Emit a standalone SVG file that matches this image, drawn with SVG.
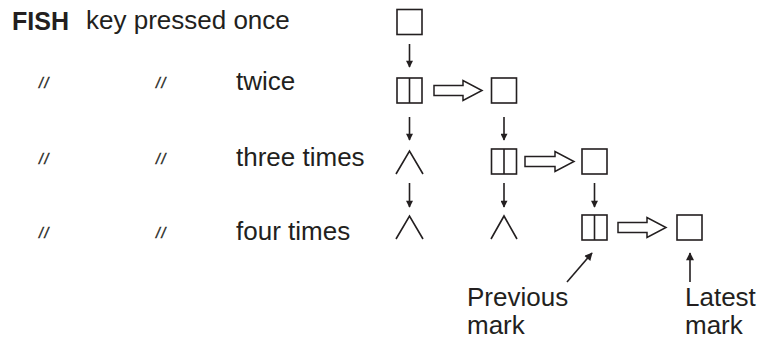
<svg xmlns="http://www.w3.org/2000/svg" width="761" height="340" viewBox="0 0 761 340">
<defs>
<style>
.t{font-family:"Liberation Sans",Arial,sans-serif;font-size:26px;fill:#231f20}
.b{font-weight:bold;font-size:25px}
.d{font-family:"Liberation Sans",Arial,sans-serif;font-size:14px;font-style:italic;letter-spacing:1.5px;fill:#231f20;stroke:#231f20;stroke-width:0.4}
.box{fill:#fff;stroke:#231f20;stroke-width:1.6}
.ln{fill:none;stroke:#231f20;stroke-width:1.6}
.ha{fill:#fff;stroke:#231f20;stroke-width:1.5;stroke-linejoin:miter}
.ar{fill:none;stroke:#231f20;stroke-width:1.6;marker-end:url(#ah)}
</style>
<marker id="ah" viewBox="0 0 10 10" refX="9" refY="5" markerWidth="8" markerHeight="7" markerUnits="userSpaceOnUse" orient="auto">
<path d="M0,0 L10,5 L0,10 Z" fill="#231f20"/>
</marker>
<marker id="ah2" viewBox="0 0 10 10" refX="9" refY="5" markerWidth="10" markerHeight="8" markerUnits="userSpaceOnUse" orient="auto">
<path d="M0,0 L10,5 L0,10 Z" fill="#231f20"/>
</marker>
</defs>
<rect width="761" height="340" fill="#fff"/>
<g id="labels">
<text class="t b" x="12" y="30">FISH</text>
<text class="t" x="86" y="29">key pressed once</text>
<text class="d" x="39" y="88">//</text>
<text class="d" x="156" y="88">//</text>
<text class="t" x="236" y="90">twice</text>
<text class="d" x="39" y="164">//</text>
<text class="d" x="156" y="164">//</text>
<text class="t" x="236" y="166">three times</text>
<text class="d" x="39" y="238">//</text>
<text class="d" x="156" y="238">//</text>
<text class="t" x="236" y="240">four times</text>
</g>
<g id="r1c1"><rect class="box" x="397" y="9.5" width="25" height="25"/></g>
<g id="r2c1"><rect class="box" x="397" y="78" width="25" height="25"/><line class="ln" x1="409.5" y1="78" x2="409.5" y2="103"/></g>
<g id="r2c2"><rect class="box" x="491.5" y="78" width="25" height="25"/></g>
<g id="r3c1"><polyline class="ln" points="396,174 409.5,151 423,174"/></g>
<g id="r3c2"><rect class="box" x="491.5" y="149" width="25" height="25"/><line class="ln" x1="504" y1="149" x2="504" y2="174"/></g>
<g id="r3c3"><rect class="box" x="582" y="149" width="25" height="25"/></g>
<g id="r4c1"><polyline class="ln" points="396,239 409.5,216 423,239"/></g>
<g id="r4c2"><polyline class="ln" points="491,239 504,216 517,239"/></g>
<g id="r4c3"><rect class="box" x="582" y="215" width="25" height="25"/><line class="ln" x1="594.5" y1="215" x2="594.5" y2="240"/></g>
<g id="r4c4"><rect class="box" x="677" y="215" width="25" height="25"/></g>
<g id="prev"><text class="t" x="467" y="306">Previous</text><text class="t" x="467" y="334">mark</text></g>
<g id="latest"><text class="t" x="685" y="306">Latest</text><text class="t" x="685" y="334">mark</text></g>
<g id="connectors">
<line class="ar" x1="409.5" y1="44" x2="409.5" y2="67"/>
<line class="ar" x1="409.5" y1="117" x2="409.5" y2="140"/>
<line class="ar" x1="504" y1="117" x2="504" y2="140"/>
<line class="ar" x1="409.5" y1="183" x2="409.5" y2="207"/>
<line class="ar" x1="504" y1="183" x2="504" y2="207"/>
<line class="ar" x1="594.5" y1="183" x2="594.5" y2="207"/>
<path class="ha" d="M434,85.5 H463 V80.5 L482,90.5 L463,100.5 V95.5 H434 Z"/>
<path class="ha" d="M525,156.5 H555 V151.5 L574,161.5 L555,171.5 V166.5 H525 Z"/>
<path class="ha" d="M618,222.5 H647 V217.5 L666,227.5 L647,237.5 V232.5 H618 Z"/>
<line class="ln" x1="567" y1="282" x2="592" y2="253" marker-end="url(#ah2)"/>
<line class="ln" x1="690" y1="282" x2="690" y2="253" marker-end="url(#ah2)"/>
</g>
</svg>
